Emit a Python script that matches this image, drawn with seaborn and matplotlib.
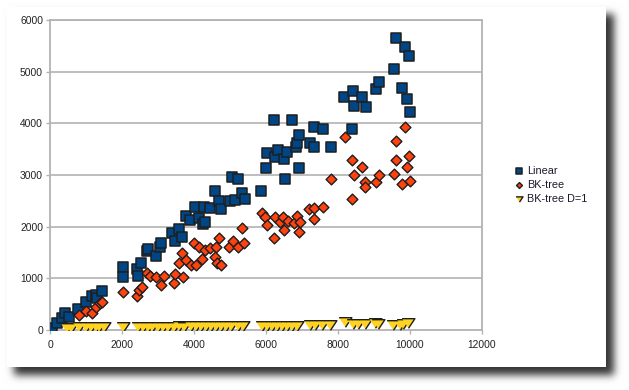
import numpy as np
import pandas as pd
import matplotlib
matplotlib.use("Agg")
import matplotlib.pyplot as plt
import seaborn as sns

# ---- data ----
linear_x = [45, 190, 325, 415, 526, 773, 1008, 1165, 1277, 1310, 1456, 2016, 2016, 2430, 2453,
            2520, 2688, 2733, 2934, 3046, 3080, 3382, 3472, 3584, 3662, 3786, 3898, 4032, 4133,
            4245, 4312, 4278, 4458, 4592, 4704, 4749, 5006, 5152, 5062, 5219, 5320, 5421, 5869,
            5992, 6037, 6216, 6238, 6339, 6496, 6518, 6586, 6720, 6832, 6854, 6910, 6922, 7213,
            7325, 7347, 7594, 7795, 8176, 8389, 8422, 8445, 8680, 8770, 9048, 9138, 9565, 9598,
            9867, 9766, 9912, 9968, 10002]
linear_y = [32, 142, 226, 323, 258, 400, 542, 658, 677, 626, 761, 1226, 1019, 1174, 1045,
            1290, 1535, 1561, 1432, 1600, 1690, 1871, 1729, 1948, 1793, 2206, 2129, 2387, 2161,
            2051, 2096, 2387, 2355, 2696, 2490, 2335, 2490, 2516, 2967, 2915, 2645, 2541, 2690,
            3128, 3431, 4063, 3354, 3483, 3302, 2915, 3451, 4063, 3547, 3612, 3767, 3141, 3612,
            3922, 3535, 3896, 3548, 4515, 3883, 4631, 4334, 4502, 4309, 4657, 4805, 5044, 5644,
            5483, 4683, 4470, 5302, 4225]

bk_x = [806, 1008, 1165, 1277, 1389, 1445, 2038, 2430, 2464, 2542, 2688, 2766, 2957, 3080,
        3158, 3450, 3472, 3584, 3662, 3696, 3786, 3920, 4010, 4054, 4133, 4222, 4301, 4458,
        4592, 4614, 4637, 4704, 4749, 4973, 5085, 5219, 5320, 5398, 5880, 5981, 6037, 6216,
        6238, 6384, 6474, 6496, 6608, 6776, 6854, 6910, 6944, 7202, 7325, 7325, 7594, 7795,
        8187, 8389, 8389, 8456, 8680, 8747, 8747, 9048, 9138, 9565, 9609, 9609, 9766, 9867,
        9912, 9968, 10002]
bk_y = [290, 374, 335, 439, 516, 542, 742, 658, 774, 826, 1110, 1045, 1019, 871,
        1045, 916, 1084, 1290, 1484, 1032, 1355, 1258, 1690, 1258, 1613, 1368, 1548, 1580,
        1419, 1613, 1290, 1774, 1258, 1613, 1729, 1600, 1967, 1677, 2258, 2180, 2032, 1774,
        2180, 2096, 2193, 1935, 2116, 2064, 2206, 1903, 2096, 2335, 2355, 2141, 2374, 2915,
        3741, 3290, 2528, 2999, 3161, 2870, 2761, 2870, 2999, 3012, 3290, 3664, 2819, 3935,
        3161, 3373, 2883]

d1_x = [464, 583, 814, 1000, 1139, 1278, 1370, 1508, 2036, 2436, 2575, 2714, 2842, 2992,
        3131, 3270, 3453, 3592, 3731, 3917, 4056, 4195, 4334, 4473, 4611, 4750, 4889, 5028,
        5231, 5370, 5881, 6020, 6159, 6298, 6437, 6576, 6714, 6853, 7223, 7362, 7548, 7778,
        8195, 8426, 8565, 8751, 9028, 9120, 9537, 9723, 9815, 9954]
d1_y = [40, 45, 50, 50, 55, 55, 60, 65, 55, 60, 60, 65, 60, 65,
        65, 60, 65, 70, 65, 70, 75, 70, 70, 75, 75, 70, 75, 70,
        75, 80, 80, 75, 80, 80, 85, 80, 85, 85, 90, 95, 95, 100,
        160, 120, 110, 115, 130, 120, 105, 100, 125, 140]

series_names = ["Linear", "BK-tree", "BK-tree D=1"]
x_ticks = [0, 2000, 4000, 6000, 8000, 10000, 12000]
y_ticks = [0, 1000, 2000, 3000, 4000, 5000, 6000]

# ---- style ----
sns.set_theme(style="white")
plt.rcParams["font.family"] = ["Liberation Sans", "DejaVu Sans"]

W, H = 629, 390
fig = plt.figure(figsize=(W / 100, H / 100), dpi=100)

# card with blurred drop shadow (background image)
mask = np.zeros((H, W))
mask[14:375, 14:614] = 1.0
sigma = 4.0
r = int(3 * sigma)
k = np.exp(-0.5 * (np.arange(-r, r + 1) / sigma) ** 2)
k /= k.sum()
sh = np.apply_along_axis(lambda v: np.convolve(v, k, mode="same"), 0, mask)
sh = np.apply_along_axis(lambda v: np.convolve(v, k, mode="same"), 1, sh)
g = 1 - 0.8 * sh
g[7:367, 7:606] = 1.0
bg = np.dstack([g, g, g])
fig.figimage(bg, xo=0, yo=0, origin="upper", zorder=0)

ax = fig.add_axes([50 / W, 1 - 330 / H, 432 / W, 310 / H])
ax.set_zorder(1)
ax.patch.set_alpha(0)

edge = "#1e1e1e"
df_lin = pd.DataFrame({"x": linear_x, "y": linear_y})
df_bk = pd.DataFrame({"x": bk_x, "y": bk_y})
df_d1 = pd.DataFrame({"x": d1_x, "y": d1_y})

tri = [(-1.0, 0.75), (1.0, 0.75), (0.0, -0.75)]

sns.scatterplot(data=df_lin, x="x", y="y", ax=ax, marker="s", s=56, color="#004586",
                edgecolor=edge, linewidth=1.1, label=series_names[0], zorder=3)
sns.scatterplot(data=df_bk, x="x", y="y", ax=ax, marker="D", s=30, color="#ff420e",
                edgecolor=edge, linewidth=1.0, label=series_names[1], zorder=4)
sns.scatterplot(data=df_d1, x="x", y="y", ax=ax, marker=tri, s=85, color="#ffd320",
                edgecolor=edge, linewidth=1.0, label=series_names[2], zorder=5)

ax.set_xlim(0, 12000)
ax.set_ylim(0, 6000)
ax.set_xticks(x_ticks)
ax.set_yticks(y_ticks)
ax.set_xticklabels([str(t) for t in x_ticks])
ax.set_yticklabels([str(t) for t in y_ticks])
ax.set_xlabel("")
ax.set_ylabel("")
ax.grid(False)
for yv in y_ticks[1:]:
    ax.axhline(yv, color="#b3b3b3", lw=1.2, zorder=1)
for s in ax.spines.values():
    s.set_color("#b3b3b3")
    s.set_linewidth(1.3)
    s.set_visible(True)
ax.tick_params(axis="both", direction="out", length=3, width=1, color="#b3b3b3",
               labelsize=7.4, labelcolor="#222222")
ax.tick_params(axis="x", pad=4)
ax.tick_params(axis="y", pad=2)
ax.xaxis.set_ticks_position("bottom")
ax.yaxis.set_ticks_position("left")

leg = ax.legend(loc="upper left", bbox_to_anchor=(514.5 / W, 1 - 166 / H),
                bbox_transform=fig.transFigure, frameon=False, fontsize=7.8,
                markerscale=0.55, handlelength=0.8, handletextpad=0.35,
                labelspacing=0.36, borderpad=0, borderaxespad=0)
for t in leg.get_texts():
    t.set_color("#1a1a2e")

fig.savefig("out.png", dpi=100)
